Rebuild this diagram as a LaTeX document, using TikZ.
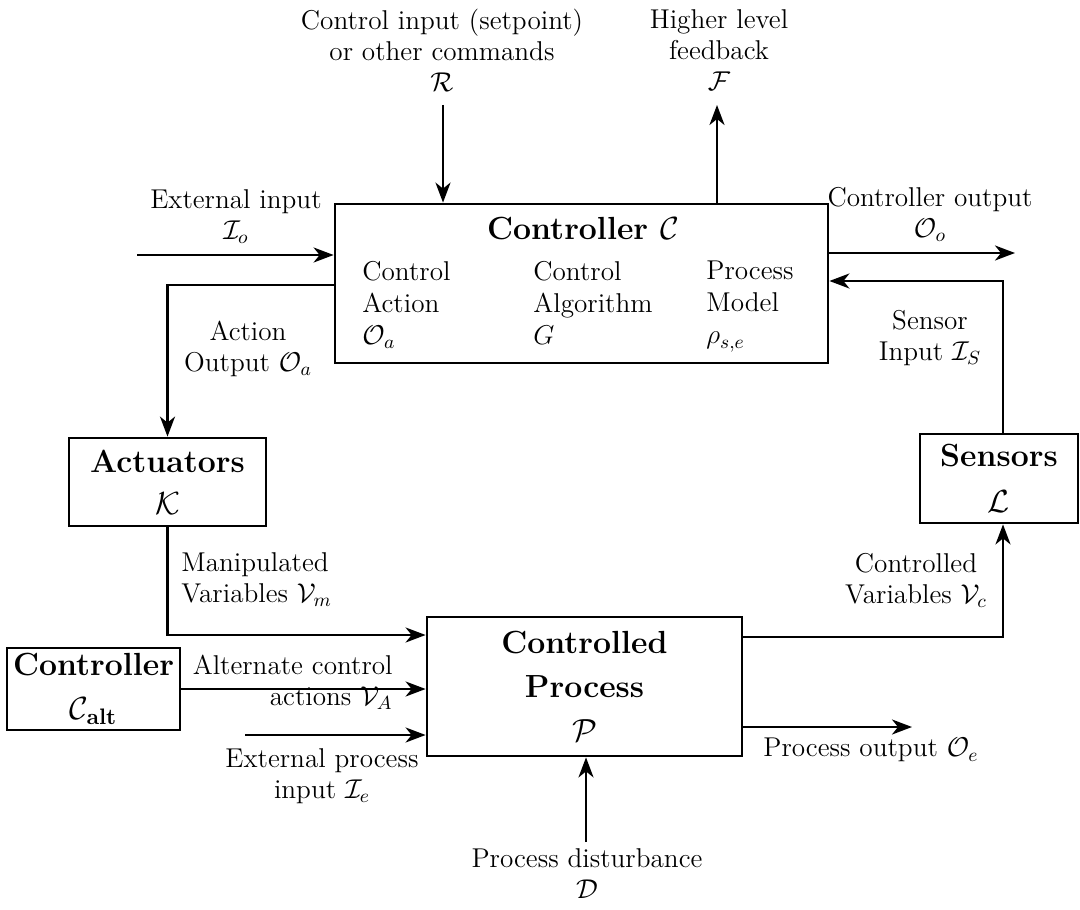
\RequirePackage{fix-cm}
\documentclass[tikz,border=0pt]{standalone}
\usetikzlibrary{arrows.meta}
\newcommand\rmlbl{\fontsize{13.6}{15.5}\selectfont}
\newcommand\colfont{\fontsize{13.6}{16}\selectfont}
\newcommand\bfttl{\fontsize{16}{22}\selectfont\bfseries}
\tikzset{
  box/.style={draw, line width=1.4pt, inner sep=0pt, align=center, font=\bfttl},
  arr/.style={line width=1.25pt, -{Stealth[length=10pt,width=7.5pt,inset=3pt]}},
  lbl/.style={inner sep=0pt, align=center, font=\rmlbl},
  lbll/.style={inner sep=0pt, align=left, font=\rmlbl},
  lblr/.style={inner sep=0pt, align=right, font=\rmlbl},
  colt/.style={inner sep=0pt, align=left, font=\colfont, anchor=north west},
}
\begin{document}
\begin{tikzpicture}[x=0.5pt,y=-0.5pt]
\useasboundingbox (0,0) rectangle (1080,909);

% boxes
\node[box, minimum width=246.5pt, minimum height=79.5pt] (ctrl) at (581.5,283.5) {};
\node[box, minimum width=98.5pt, minimum height=44pt] (act) at (167.5,482) {Actuators\\[-1pt]$\mathcal{K}$};
\node[box, minimum width=79pt, minimum height=44.5pt] (sens) at (999,478.5) {Sensors\\[1pt]$\mathcal{L}$};
\node[box, minimum width=157.5pt, minimum height=69.5pt] (proc) at (584.5,686.5) {Controlled\\Process\\$\mathcal{P}$};
\node[box, minimum width=86.5pt, minimum height=41pt] (alt) at (93.5,689) {Controller\\$\mathcal{C}_{\mathbf{alt}}$};

% controller contents
\node[inner sep=0pt, font=\bfttl, anchor=base] (ctitle) at (583,239) {Controller $\mathcal{C}$};
\node[colt] (c1) at (362,261) {Control\\Action\\$\mathcal{O}_a$};
\node[colt] (c2) at (533,261) {Control\\Algorithm\\$G$};
\node[colt] (c3) at (706,261) {Process\\Model\\$\rho_{s,e}$};

% labels
\node[lbl, anchor=north] (rlab) at (442,9) {Control input (setpoint)\\or other commands\\$\mathcal{R}$};
\node[lbl, anchor=north] (flab) at (719,9) {Higher level\\feedback\\$\mathcal{F}$};
\node[lbl, anchor=north] (eilab) at (236,189) {External input\\$\mathcal{I}_o$};
\node[lbl, anchor=north] (colab) at (930,187) {Controller output\\$\mathcal{O}_o$};
\node[lbl, anchor=north] (aolab) at (248,321) {Action\\Output $\mathcal{O}_a$};
\node[lbl, anchor=north] (silab) at (930,310) {Sensor\\Input $\mathcal{I}_S$};
\node[lbll, anchor=north west] (mvlab) at (181,552) {Manipulated\\Variables $\mathcal{V}_m$};
\node[lbl, anchor=north] (cvlab) at (916,553) {Controlled\\Variables $\mathcal{V}_c$};
\node[lblr, anchor=north east] (altlab) at (393,655) {Alternate control\\actions $\mathcal{V}_A$};
\node[lbl, anchor=north] (eplab) at (322,748) {External process\\input $\mathcal{I}_e$};
\node[lbll, anchor=north west] (polab) at (763,738) {Process output $\mathcal{O}_e$};
\node[lbl, anchor=north] (pdlab) at (587,848) {Process disturbance\\$\mathcal{D}$};

% connectors
\coordinate (rS) at (443,105);
\draw[arr] (rS) -- (rS |- ctrl.north);
\coordinate (fE) at (717,105);
\draw[arr] (fE |- ctrl.north) -- (fE);
\coordinate (eiS) at (137,255);
\draw[arr] (eiS) -- (eiS -| ctrl.west);
\coordinate (aoC) at (167.5,285);
\draw[arr] (aoC -| ctrl.west) -- (aoC) -- (act.north);
\coordinate (coE) at (1015,253);
\draw[arr] (coE -| ctrl.east) -- (coE);
\coordinate (siC) at (1003,281);
\draw[arr] (siC |- sens.north) -- (siC) -- (siC -| ctrl.east);
\coordinate (mvC) at (167.5,635);
\draw[arr] (act.south) -- (mvC) -- (mvC -| proc.west);
\draw[arr] (alt.east) -- (alt.east -| proc.west);
\coordinate (epS) at (245,735);
\draw[arr] (epS) -- (epS -| proc.west);
\coordinate (poE) at (912,727);
\draw[arr] (poE -| proc.east) -- (poE);
\coordinate (pdS) at (586,842);
\draw[arr] (pdS) -- (pdS |- proc.south);
\coordinate (cvC) at (1003,637);
\draw[arr] (cvC -| proc.east) -- (cvC) -- (cvC |- sens.south);
\end{tikzpicture}
\end{document}
